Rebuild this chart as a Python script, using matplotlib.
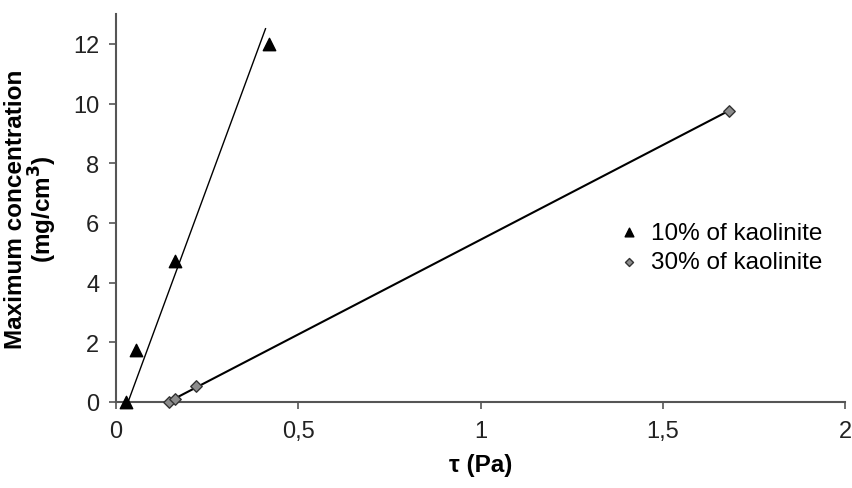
import numpy as np
import matplotlib
matplotlib.use('Agg')
import matplotlib.pyplot as plt
from matplotlib.ticker import FuncFormatter

plt.rcParams['font.family'] = ['Liberation Sans', 'DejaVu Sans']

# 10% kaolinite (triangles)
tau_10 = [0.027, 0.054, 0.163, 0.42]
conc_10 = [0.0, 1.75, 4.73, 12.0]
# 30% kaolinite (diamonds)
tau_30 = [0.144, 0.163, 0.22, 1.68]
conc_30 = [0.0, 0.1, 0.54, 9.76]

# trend lines: (slope, intercept, x-start, x-end, width)
trend_10 = (33.2, -1.1, 0.033, 0.41, 1.0)
trend_30 = (6.35, -0.91, 0.144, 1.68, 1.5)

fig = plt.figure(figsize=(8.53, 4.89), dpi=100)
ax = fig.add_axes([0.136, 0.176, 0.855, 0.793])

for (k, d, x0, x1, w) in (trend_10, trend_30):
    xs = np.array([x0, x1])
    ax.plot(xs, k * xs + d, color='black', lw=w, zorder=2)

ax.scatter(tau_10, conc_10, marker='^', s=80, color='black', zorder=3,
           label='10% of kaolinite', clip_on=False)
ax.scatter(tau_30, conc_30, marker='D', s=34, color='#8c8c8c',
           edgecolor='#333333', linewidth=1.0, zorder=3,
           label='30% of kaolinite', clip_on=False)

ax.set_xlim(0, 2)
ax.set_ylim(0, 13)
ax.set_xticks([0, 0.5, 1, 1.5, 2])
ax.set_yticks(range(0, 13, 2))
ax.xaxis.set_major_formatter(FuncFormatter(lambda v, p: f'{v:g}'.replace('.', ',')))
for s in ('top', 'right'):
    ax.spines[s].set_visible(False)
for s in ('left', 'bottom'):
    ax.spines[s].set_color('#555555')
    ax.spines[s].set_linewidth(1.5)
ax.tick_params(direction='out', length=5, width=1.2, color='#555555',
               labelsize=17, labelcolor='#222222')
ax.tick_params(axis='y', pad=7)
ax.tick_params(axis='x', pad=8)

ax.set_xlabel('τ (Pa)', fontsize=17.5, fontweight='bold', labelpad=8)
ax.set_ylabel('Maximum concentration\n(mg/cm$^\\mathbf{3}$)', fontsize=17.5,
              fontweight='bold', labelpad=10, linespacing=1.0)

fig.legend(loc='upper left', bbox_to_anchor=(0.726, 0.545), frameon=False,
           fontsize=17.5, handlelength=0.8, handletextpad=0.5, borderpad=0,
           borderaxespad=0, labelspacing=0.32, scatterpoints=1, markerscale=0.7)

fig.savefig('out.png', dpi=100)
